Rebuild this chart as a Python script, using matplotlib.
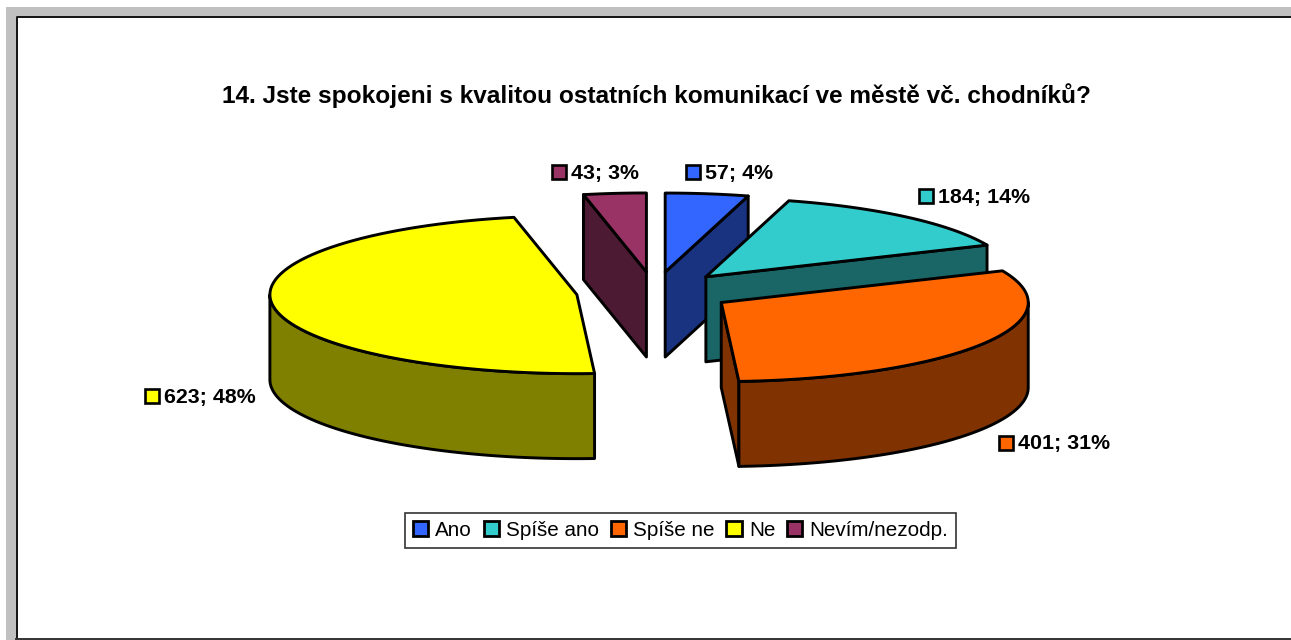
import matplotlib
matplotlib.use("Agg")
import matplotlib.pyplot as plt
from matplotlib.patches import Polygon, Patch, Rectangle
import numpy as np

plt.rcParams['font.family'] = ['Liberation Sans', 'DejaVu Sans']

title = "14. Jste spokojeni s kvalitou ostatních komunikací ve městě vč. chodníků?"
categories = ["Ano", "Spíše ano", "Spíše ne", "Ne", "Nevím/nezodp."]
values = [57, 184, 401, 623, 43]
colors = ["#3366FF", "#33CCCC", "#FF6600", "#FFFF00", "#993366"]
side_colors = ["#1A3380", "#1A6666", "#803300", "#808000", "#4D1A33"]

# label key position (left edge, centre y), one per slice
label_pos = [(686, 172), (919, 196), (999, 443), (145, 396), (552, 172)]

# pie geometry in pixels
cx, cy = 654.5, 292
rx, ry = 307, 79
depth = 85
explode = 0.255
line = 2.1


def point(c, ang, r=1.0):
    a = np.radians(ang)
    return np.array([c[0] + r*rx*np.sin(a), c[1] - r*ry*np.cos(a)])


def arc(c, a0, a1):
    angs = np.linspace(a0, a1, 80)
    return np.array([point(c, a) for a in angs])


def add_poly(ax, pts, color, z):
    ax.add_patch(Polygon(pts, closed=True, facecolor=color, edgecolor="black",
                         linewidth=line, joinstyle="round", zorder=z))


fig = plt.figure(figsize=(12.91, 6.40), dpi=100)
ax = fig.add_axes([0, 0, 1, 1])
ax.set_xlim(0, 1291)
ax.set_ylim(640, 0)
ax.axis("off")

# grey window frame
ax.add_patch(Rectangle((6, 7), 1285, 10, facecolor="#C0C0C0", edgecolor="none", zorder=0))
ax.add_patch(Rectangle((6, 7), 10, 633, facecolor="#C0C0C0", edgecolor="none", zorder=0))
ax.plot([16.5, 16.5, 1291], [640, 17, 17], color="#111111", linewidth=1.4, zorder=1)
ax.plot([16, 1291], [639, 639], color="#333333", linewidth=1.4, zorder=1)

fracs = np.array(values) / sum(values)
ends = np.cumsum(fracs) * 360
starts = ends - fracs * 360
mids = (starts + ends) / 2

centres = [point((cx, cy), m, explode) for m in mids]
order = np.argsort([c[1] for c in centres])

z = 2
for i in order:
    c, a0, a1 = centres[i], starts[i], ends[i]
    p0, p1 = point(c, a0), point(c, a1)
    down = np.array([0, depth])

    # cut faces that look towards the viewer
    if p0[0] < c[0] - 0.5:
        add_poly(ax, [c, p0, p0 + down, c + down], side_colors[i], z)
    if p1[0] > c[0] + 0.5:
        add_poly(ax, [c, p1, p1 + down, c + down], side_colors[i], z)
    z += 1

    # rim, only the front half of the ellipse
    r0, r1 = max(a0, 90), min(a1, 270)
    if r1 > r0:
        rim = arc(c, r0, r1)
        add_poly(ax, np.vstack([rim, (rim + down)[::-1]]), side_colors[i], z)
    z += 1

    add_poly(ax, np.vstack([c, arc(c, a0, a1)]), colors[i], z)
    z += 1

ax.text(656, 96, title, ha="center", va="center", fontsize=17.6,
        fontweight="bold", color="black", zorder=50)

for i, (x, y) in enumerate(label_pos):
    ax.add_patch(Rectangle((x, y - 7), 14, 14, facecolor=colors[i], edgecolor="black",
                           linewidth=1.9, zorder=50))
    txt = "%d; %d%%" % (values[i], round(fracs[i] * 100))
    ax.text(x + 19, y + 1, txt, ha="left", va="center", fontsize=15.4,
            fontweight="bold", color="black", zorder=50)

handles = [Patch(facecolor=c, edgecolor="black", linewidth=2.0) for c in colors]
leg = ax.legend(handles, categories, loc="center", bbox_to_anchor=(680.5, 530.5),
                bbox_transform=ax.transData, ncol=5, fontsize=14.9, frameon=True,
                fancybox=False, edgecolor="#333333", framealpha=1,
                handlelength=0.75, handleheight=0.75, handletextpad=0.35,
                columnspacing=0.55, borderpad=0.38, borderaxespad=0)
leg.get_frame().set_linewidth(1.2)
leg.set_zorder(50)

fig.savefig("out.png", dpi=100)
